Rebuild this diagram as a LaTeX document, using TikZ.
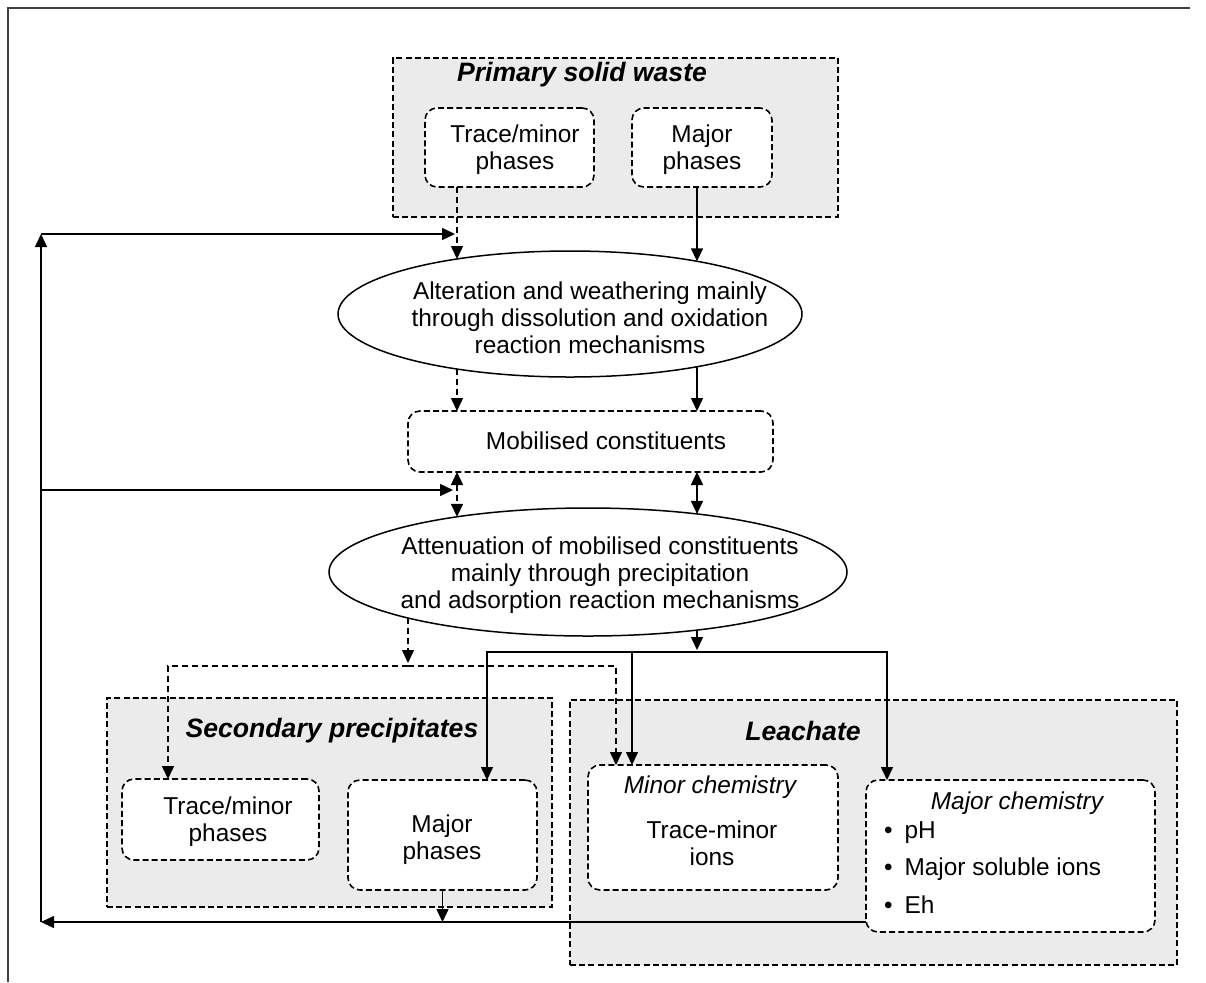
\documentclass[tikz,border=0pt]{standalone}
\usepackage{fontspec}
\setmainfont{Liberation Sans}
\usetikzlibrary{arrows.meta,shapes.geometric,calc}
\begin{document}
\begin{tikzpicture}[x=0.5pt,y=-0.5pt,
  every node/.style={font=\fontsize{12.2}{13.6}\selectfont, inner sep=0pt, outer sep=0pt},
  grp/.style={draw, line width=0.9pt, dash pattern=on 3pt off 1.6pt, fill=black!8},
  rbox/.style={draw, line width=0.8pt, dash pattern=on 3pt off 1.6pt, fill=white, rounded corners=6pt},
  oval/.style={draw, ellipse, line width=0.75pt, fill=white, align=center},
  ttl/.style={font=\fontsize{13.3}{15}\selectfont\bfseries\itshape},
  txt/.style={align=center},
  arr/.style={line width=0.75pt, -{Triangle[length=6.5pt,width=6pt]}},
  arrb/.style={line width=0.75pt, {Triangle[length=6.5pt,width=6pt]}-{Triangle[length=6.5pt,width=6pt]}},
  dsh/.style={dash pattern=on 3pt off 2pt}
]
\useasboundingbox (0,0) rectangle (1206,982);
% outer frame
\coordinate (fTL) at (8,8);
\coordinate (fTR) at (1190,8);
\coordinate (fBL) at (8,982);
\draw[line width=1pt, black!75] (fTR) -- (fTL) -- (fBL);

% Primary solid waste
\node[grp, minimum width=222.5pt, minimum height=79.5pt] (psw) at (615.5,137.5) {};
\node[ttl] (pswt) at (582,75) {Primary solid waste};
\node[rbox, minimum width=84.5pt, minimum height=39.5pt] (tmA) at (509.5,147.5) {};
\node[txt] (tmAt) at (515,150) {Trace/minor\\phases};
\node[rbox, minimum width=70pt, minimum height=39.5pt] (mjA) at (702,147.5) {};
\node[txt] (mjAt) at (702,150) {Major\\phases};

% Ellipse 1
\node[oval, minimum width=232pt, minimum height=63pt] (e1) at (570,314) {};
\node[txt] (e1t) at (590,318) {Alteration and weathering mainly\\through dissolution and oxidation\\reaction mechanisms};

% Mobilised constituents
\node[rbox, minimum width=182.5pt, minimum height=30.5pt] (mob) at (590.5,441.5) {};
\node[txt] (mobt) at (606,441) {Mobilised constituents};

% Ellipse 2
\node[oval, minimum width=259pt, minimum height=64pt] (e2) at (588,572) {};
\node[txt] (e2t) at (600,575) {Attenuation of mobilised constituents\\mainly through precipitation\\and adsorption reaction mechanisms};

% Secondary precipitates
\node[grp, minimum width=222.5pt, minimum height=104.5pt] (sec) at (329.5,802.5) {};
\node[ttl] (sect) at (332,731) {Secondary precipitates};
\node[rbox, minimum width=98.5pt, minimum height=40.5pt] (tmB) at (220.5,819.5) {};
\node[txt] (tmBt) at (228,822) {Trace/minor\\phases};
\node[rbox, minimum width=94.5pt, minimum height=55pt] (mjB) at (442.5,835) {};
\node[txt] (mjBt) at (442,840) {Major\\phases};

% Leachate
\node[grp, minimum width=303.5pt, minimum height=132.5pt] (lea) at (873.5,832.5) {};
\node[ttl] (leat) at (803,731) {Leachate};
\node[rbox, minimum width=125pt, minimum height=62.5pt] (mnC) at (713,827.5) {};
\node[txt] (mnCh) at (710,787) {\itshape Minor chemistry};
\node[txt] (mnCt) at (712,843) {Trace-minor\\ions};
\node[rbox, minimum width=144.5pt, minimum height=76pt] (mjC) at (1010.5,856) {};
\node[txt] (mjCh) at (1017,803) {\itshape Major chemistry};
\node[anchor=west] (b1) at (884,833) {\textbullet\hspace{6pt}pH};
\node[anchor=west] (b2) at (884,869) {\textbullet\hspace{6pt}Major soluble ions};
\node[anchor=west] (b3) at (884,905) {\textbullet\hspace{6pt}Eh};

% connectors: primary -> ellipse 1
\draw[dsh, arr] (tmA.south west) ++(32,0) -- ($(e1.center)+(-113,-55)$);
\draw[arr] (mjA.south west) ++(65,0) -- ($(e1.center)+(127,-52.7)$);
% ellipse 1 -> mobilised
\draw[dsh, arr] ($(e1.center)+(-113,55)$) -- ($(mob.north west)+(49,0)$);
\draw[arr] ($(e1.center)+(127,52.7)$) -- ($(mob.north west)+(289,0)$);
% mobilised <-> ellipse 2
\draw[dsh, arrb] ($(mob.south west)+(49,0)$) -- ($(e2.center)+(-131,-55.2)$);
\draw[arrb] ($(mob.south west)+(289,0)$) -- ($(e2.center)+(109,-58.1)$);

% feedback loop
\coordinate (fbBot) at (41,922);
\coordinate (fbTop) at (41,234);
\coordinate (fbMid) at (41,490);
\coordinate (j1) at (455,234);
\coordinate (j2) at (453,490);
\draw[arr] (fbBot) -- (fbTop);
\draw[arr] (fbTop) -- (j1);
\draw[arr] (fbMid) -- (j2);
\draw[arr] (mjC.west |- fbBot) -- (fbBot);
\draw[arr] (mjB.south) -- (mjB.south |- fbBot);

% ellipse 2 -> precipitates (dashed)
\coordinate (d1) at (408,666);
\draw[dsh, arr] ($(e2.center)+(-180,46)$) -- ($(d1)+(0,-3)$);
\draw[dsh, arr] (d1) -| ($(tmB.north west)+(46,0)$);
\draw[dsh, arr] (d1) -| ($(mnC.north west)+(28,0)$);
% ellipse 2 -> leachate (solid)
\coordinate (s1) at (697,652);
\draw[arr] ($(e2.center)+(109,58.1)$) -- ($(s1)+(0,-2)$);
\draw[arr] (s1) -| ($(mjB.north west)+(139,0)$);
\draw[arr] (s1) -| ($(mnC.north west)+(44,0)$);
\draw[arr] (s1) -| ($(mjC.north west)+(21,0)$);
\end{tikzpicture}
\end{document}
